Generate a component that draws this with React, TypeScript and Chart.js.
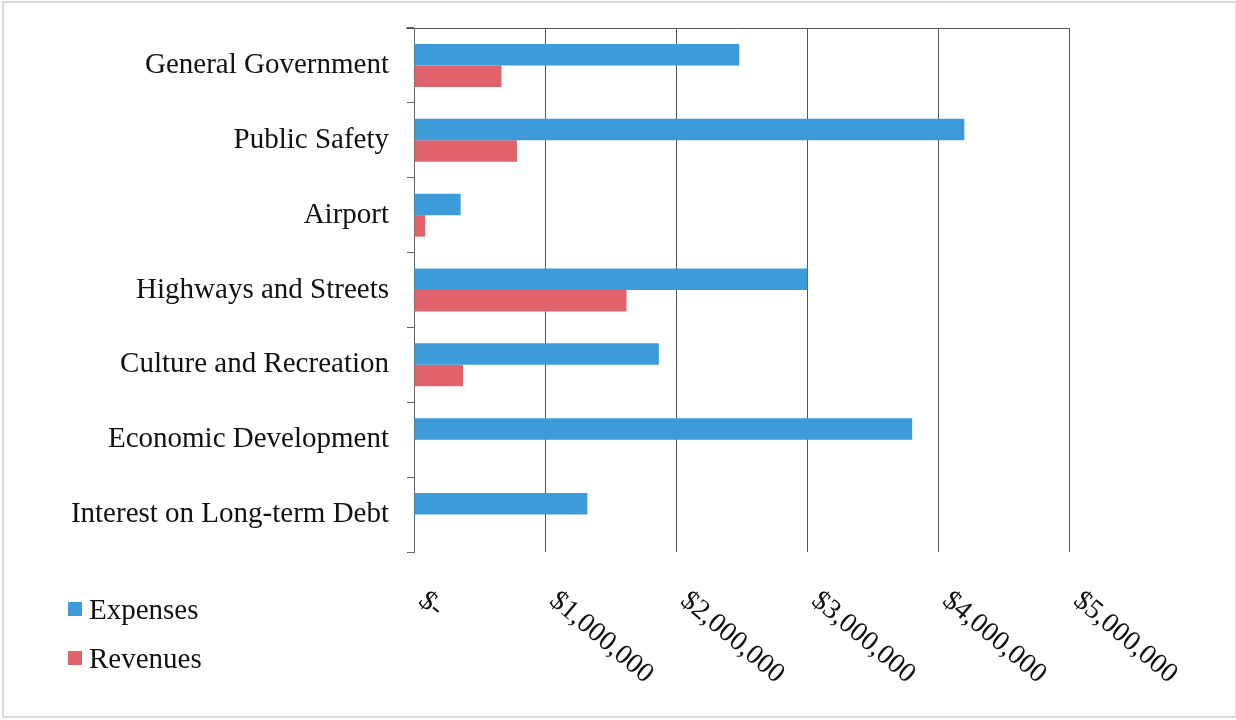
import React, { useEffect, useRef } from "react";
import { Chart, registerables } from "chart.js";

Chart.register(...registerables);

const categories = [
  "General Government",
  "Public Safety",
  "Airport",
  "Highways and Streets",
  "Culture and Recreation",
  "Economic Development",
  "Interest on Long-term Debt",
];
const expenses = [2483000, 4201000, 356000, 3003000, 1869000, 3803000, 1323000];
const revenues = [667000, 786000, 85000, 1622000, 374000, 0, 0];
const xTickLabels = ["$-", "$1,000,000", "$2,000,000", "$3,000,000", "$4,000,000", "$5,000,000"];

const FONT = "'Liberation Serif', 'Times New Roman', serif";

const decorPlugin = {
  id: "decor",
  afterDraw(chart: any) {
    const ctx = chart.ctx as CanvasRenderingContext2D;
    const area = chart.chartArea;
    const xs = chart.scales.x;
    ctx.save();
    // outer border
    ctx.strokeStyle = "#d9d9d9";
    ctx.lineWidth = 2;
    ctx.strokeRect(3, 2, chart.width - 3, chart.height - 5);
    // top border of plot area
    ctx.strokeStyle = "#555";
    ctx.lineWidth = 1;
    ctx.beginPath();
    ctx.moveTo(area.left - 8, Math.round(area.top) + 0.5);
    ctx.lineTo(area.right, Math.round(area.top) + 0.5);
    ctx.stroke();
    // rotated x tick labels
    ctx.fillStyle = "#111";
    ctx.font = `28px ${FONT}`;
    ctx.textAlign = "left";
    ctx.textBaseline = "middle";
    xTickLabels.forEach((lab, i) => {
      const px = xs.getPixelForValue(i * 1000000);
      ctx.save();
      ctx.translate(px + 8, 597);
      ctx.rotate((40 * Math.PI) / 180);
      ctx.fillText(lab, 0, 0);
      ctx.restore();
    });
    // legend
    const items = chart.data.datasets;
    const ys = [609, 658];
    ctx.font = `29px ${FONT}`;
    ctx.textBaseline = "alphabetic";
    items.forEach((ds: any, i: number) => {
      ctx.fillStyle = ds.backgroundColor;
      ctx.fillRect(68, ys[i] - 7, 14, 14);
      ctx.fillStyle = "#111";
      ctx.fillText(ds.label, 89, ys[i] + 10);
    });
    ctx.restore();
  },
};

export default function App() {
  const ref = useRef<HTMLCanvasElement | null>(null);
  useEffect(() => {
    if (!ref.current) return;
    const chart = new Chart(ref.current, {
      type: "bar",
      data: {
        labels: categories,
        datasets: [
          {
            label: "Expenses",
            data: expenses,
            backgroundColor: "#3C9BD8",
            categoryPercentage: 0.574,
            barPercentage: 1.0,
          },
          {
            label: "Revenues",
            data: revenues,
            backgroundColor: "#E0636B",
            categoryPercentage: 0.574,
            barPercentage: 1.0,
          },
        ],
      },
      options: {
        indexAxis: "y",
        responsive: false,
        animation: false,
        layout: { padding: { top: 28, right: 167, left: 0, bottom: 0 } },
        plugins: {
          legend: { display: false },
          tooltip: { enabled: false },
        },
        scales: {
          x: {
            min: 0,
            max: 5000000,
            ticks: { stepSize: 1000000, display: false },
            grid: { color: "#555", lineWidth: 1, drawTicks: false },
            border: { display: false },
            afterFit: (s: any) => {
              s.height = 168;
              s.paddingLeft = 0;
              s.paddingRight = 0;
            },
          },
          y: {
            ticks: {
              color: "#111",
              font: { family: FONT, size: 29 },
              padding: 18,
            },
            grid: {
              drawOnChartArea: false,
              drawTicks: true,
              tickLength: 7,
              color: "#666",
              offset: true,
            },
            border: { display: true, color: "#666" },
            afterFit: (s: any) => {
              s.width = 414;
              s.paddingTop = 0;
              s.paddingBottom = 0;
            },
          },
        },
      },
      plugins: [decorPlugin],
    });
    return () => chart.destroy();
  }, []);
  return (
    <div style={{ position: "fixed", left: 0, top: 0, width: 1236, height: 720, background: "#fff" }}>
      <canvas ref={ref} width={1236} height={720} />
    </div>
  );
}
